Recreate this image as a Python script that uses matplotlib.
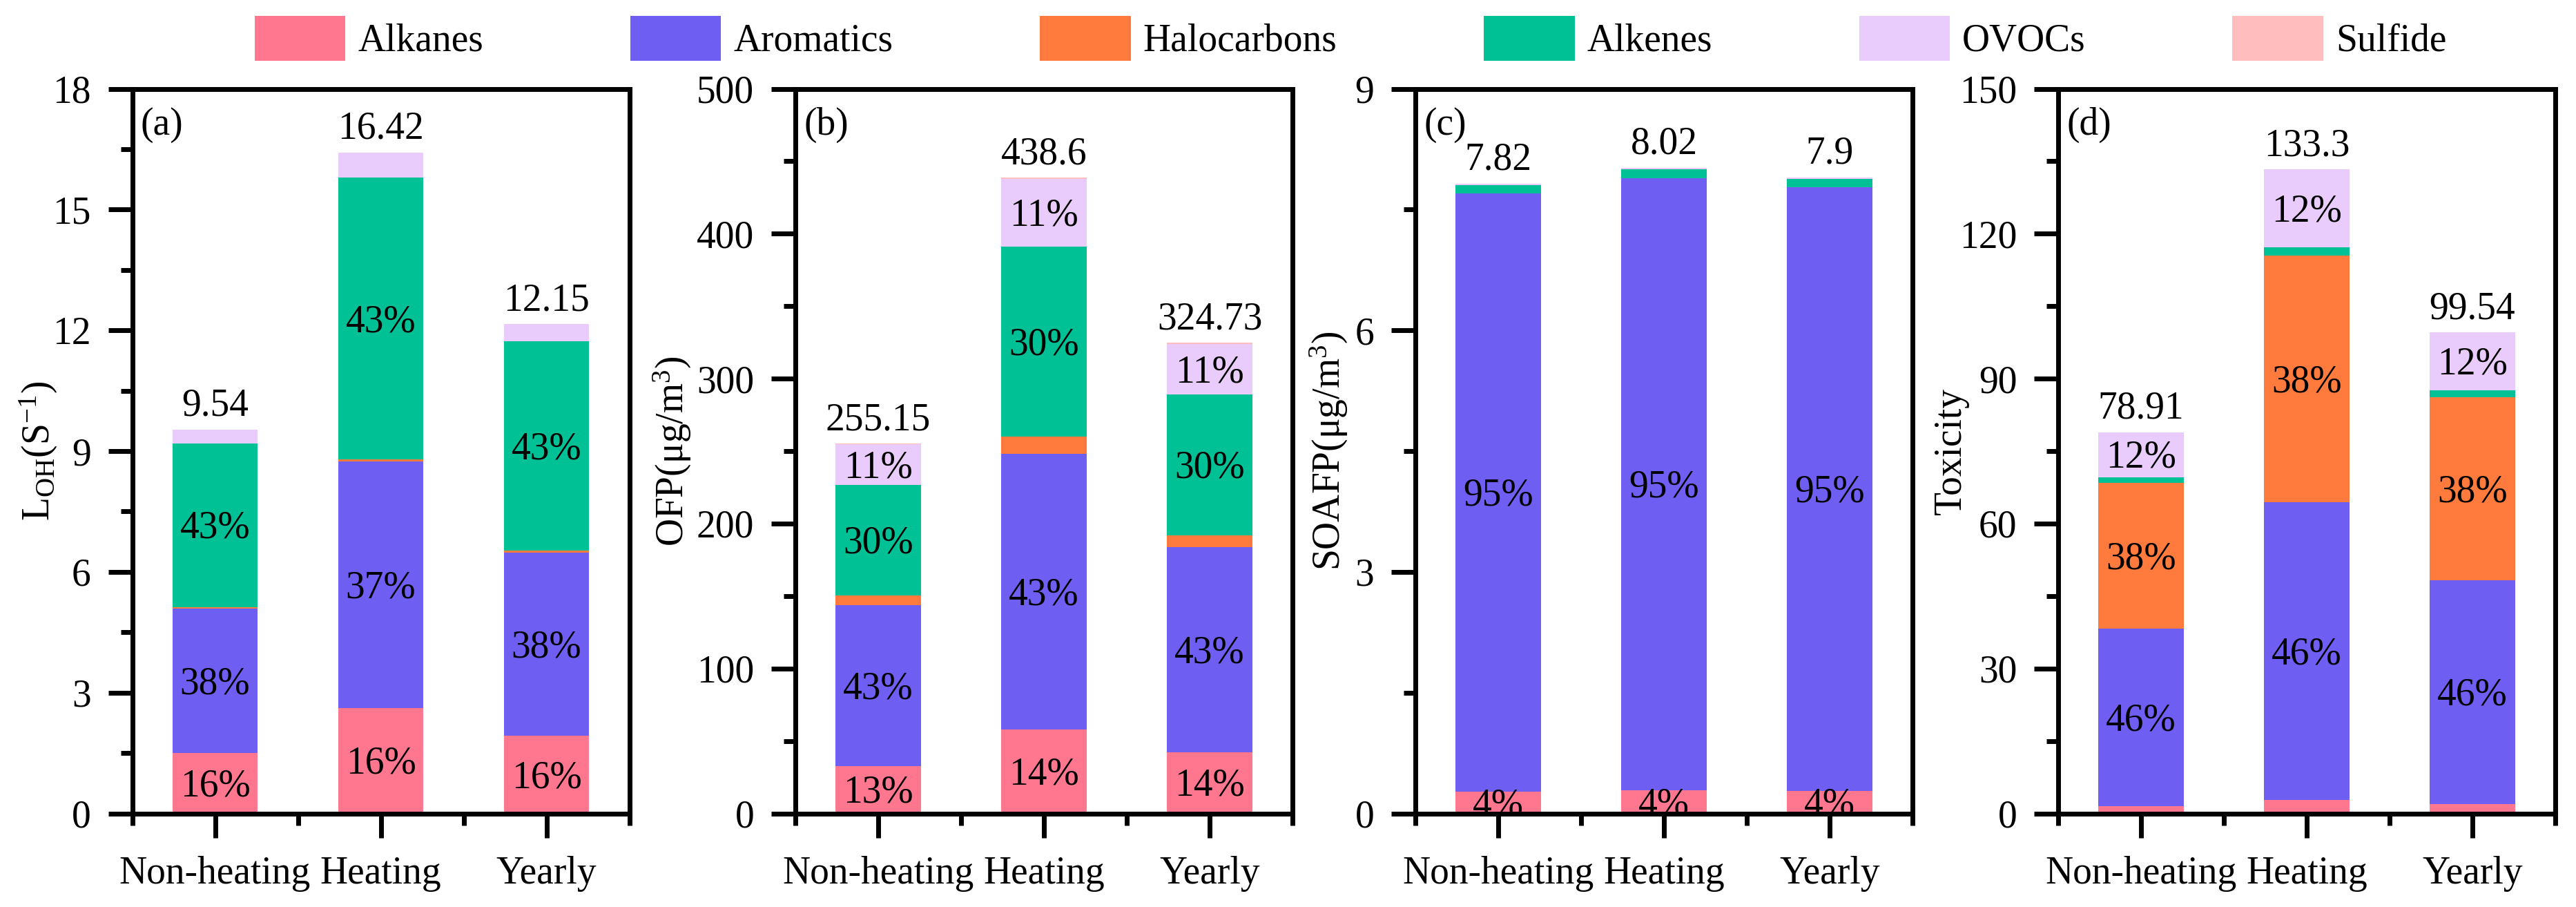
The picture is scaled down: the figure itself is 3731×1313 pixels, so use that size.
import numpy as np
import matplotlib
matplotlib.use('Agg')
import matplotlib.pyplot as plt
from matplotlib.patches import Patch
from matplotlib.ticker import MultipleLocator, FixedLocator

plt.rcParams['font.family'] = ['Liberation Serif', 'DejaVu Serif']
plt.rcParams['mathtext.fontset'] = 'custom'
plt.rcParams['mathtext.rm'] = 'Liberation Serif'
plt.rcParams['mathtext.it'] = 'Liberation Serif:italic'

# categories
periods = ['Non-heating', 'Heating', 'Yearly']
groups = ['Alkanes', 'Aromatics', 'Halocarbons', 'Alkenes', 'OVOCs', 'Sulfide']
colors = ['#FF778F', '#6F5EF2', '#FF7B3D', '#00C196', '#E9CCFB', '#FFBDBD']

# rows follow groups, columns follow periods
loh_vals = [[1.50, 2.62, 1.93],
            [3.58, 6.12, 4.55],
            [0.05, 0.05, 0.05],
            [4.06, 7.00, 5.20],
            [0.35, 0.63, 0.42],
            [0.0, 0.0, 0.0]]
loh_totals = [9.54, 16.42, 12.15]
loh_pct = [[16, 16, 16], [38, 37, 38], None, [43, 43, 43], None, None]

ofp_vals = [[32.8, 58.0, 42.3],
            [110.7, 190.1, 141.4],
            [6.7, 11.8, 8.1],
            [76.5, 131.4, 97.3],
            [28.1, 46.3, 34.8],
            [0.35, 1.0, 0.83]]
ofp_totals = [255.15, 438.6, 324.73]
ofp_pct = [[13, 14, 14], [43, 43, 43], None, [30, 30, 30], [11, 11, 11], None]

soafp_vals = [[0.27, 0.29, 0.28],
              [7.43, 7.60, 7.50],
              [0.0, 0.0, 0.0],
              [0.10, 0.11, 0.10],
              [0.02, 0.02, 0.02],
              [0.0, 0.0, 0.0]]
soafp_totals = [7.82, 8.02, 7.9]
soafp_pct = [[4, 4, 4], [95, 95, 95], None, None, None, None]

tox_vals = [[1.5, 2.8, 2.0],
            [36.7, 61.6, 46.2],
            [30.2, 51.0, 37.9],
            [1.2, 1.8, 1.5],
            [9.31, 16.1, 11.94],
            [0.0, 0.0, 0.0]]
tox_totals = [78.91, 133.3, 99.54]
tox_pct = [None, [46, 46, 46], [38, 38, 38], None, [12, 12, 12], None]

panels = [
    ('(a)', r'L$_{\mathrm{OH}}$(S$^{-1}$)', loh_vals, loh_totals, loh_pct, 18, 3, -0.146),
    ('(b)', r'OFP(μg/m$^{3}$)', ofp_vals, ofp_totals, ofp_pct, 500, 100, -0.205),
    ('(c)', r'SOAFP(μg/m$^{3}$)', soafp_vals, soafp_totals, soafp_pct, 9, 3, -0.132),
    ('(d)', 'Toxicity', tox_vals, tox_totals, tox_pct, 150, 30, -0.179),
]

W, H = 3731, 1313
fig = plt.figure(figsize=(W / 100, H / 100), dpi=100)
lefts = [191.5, 1152, 2050, 2981]
axw = 720 / W
bottom = 1 - 1177.5 / H
axh = (1177.5 - 128.5) / H

fs = 40
lw = 5
x = np.arange(1, 4)
barw = 0.515

for (tag, ylab, vals, totals, pct, ymax, ystep, labx), left in zip(panels, lefts):
    ax = fig.add_axes([left / W, bottom, axw, axh])
    base = np.zeros(3)
    for vrow, col, prow in zip(vals, colors, pct):
        vrow = np.array(vrow)
        ax.bar(x, vrow, barw, bottom=base, color=col, linewidth=0, zorder=1)
        if prow is not None:
            for xi, b, v, p in zip(x, base, vrow, prow):
                ax.annotate(f'{p}%', xy=(xi, b + v / 2), xytext=(0, -13.5),
                            textcoords='offset points', ha='center',
                            va='baseline', fontsize=fs, clip_on=True, zorder=3)
        base = base + vrow
    for xi, b, t in zip(x, base, totals):
        ax.annotate(f'{t:g}', xy=(xi, b), xytext=(0, 14.5),
                    textcoords='offset points', ha='center', va='baseline',
                    fontsize=fs)

    ax.set_xlim(0.5, 3.5)
    ax.set_ylim(0, ymax)
    ax.xaxis.set_major_locator(FixedLocator(x))
    ax.xaxis.set_minor_locator(FixedLocator([0.5, 1.5, 2.5, 3.5]))
    ax.set_xticklabels(periods)
    ax.yaxis.set_major_locator(MultipleLocator(ystep))
    ax.yaxis.set_minor_locator(MultipleLocator(ystep / 2))
    ax.tick_params(axis='both', which='both', direction='out', width=lw,
                   top=False, right=False, labelsize=fs)
    ax.tick_params(axis='both', which='major', length=25)
    ax.tick_params(axis='both', which='minor', length=12.5)
    ax.tick_params(axis='y', which='major', pad=18)
    ax.tick_params(axis='x', which='major', pad=19)
    for sp in ax.spines.values():
        sp.set_linewidth(lw)

    ax.set_ylabel(ylab, fontsize=fs)
    ax.yaxis.set_label_coords(labx, 0.5)
    ax.text(0.017, 0.975, tag, transform=ax.transAxes, ha='left', va='top',
            fontsize=fs)

handles = [Patch(facecolor=c, edgecolor='none', label=g)
           for g, c in zip(groups, colors)]
fig.legend(handles=handles, loc='center', ncol=6, frameon=False,
           bbox_to_anchor=(1956 / W, 1 - 55.5 / H), fontsize=fs,
           handlelength=2.37, handleheight=1.42, handletextpad=0.32,
           columnspacing=3.83, borderpad=0, borderaxespad=0)

fig.savefig('out.png', dpi=100)
